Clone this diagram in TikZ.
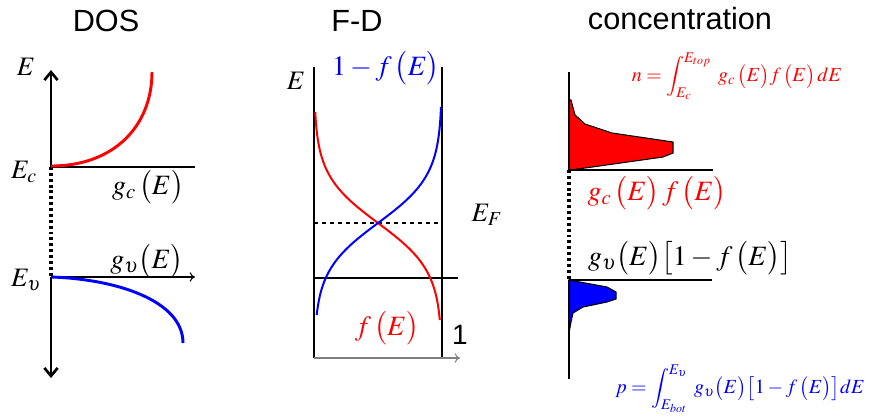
\documentclass[tikz,border=0pt]{standalone}
\usepackage{mathptmx}
\usepackage{fontspec}
\setmainfont{Liberation Sans}
\usetikzlibrary{arrows.meta}
\begin{document}
\begin{tikzpicture}[x=0.75pt,y=-0.75pt,
  title/.style={inner sep=0pt,font=\fontsize{23}{26}\selectfont},
  lab/.style={inner sep=0pt,font=\fontsize{20}{22}\selectfont},
  biglab/.style={inner sep=0pt,font=\fontsize{21}{23}\selectfont},
  formula/.style={inner sep=0pt,font=\fontsize{15}{17}\selectfont},
  thickax/.style={line width=2.2pt},
  frameline/.style={line width=1.5pt},
  thinax/.style={line width=0.8pt},
  barb/.style={-{Straight Barb[length=6pt,width=10pt,line width=2pt]}},
  curveC/.style={red,line width=2.2pt},
  curveV/.style={blue,line width=2.2pt},
  fdcurve/.style={line width=1.5pt},
  dotax/.style={line width=2.4pt,dash pattern=on 2.2pt off 2.2pt}
]
\useasboundingbox (0,0) rectangle (894,419);

% ---------- titles
\node[title] (tdos) at (106,21) {DOS};
\node[title] (tfd) at (357,21) {F-D};
\node[title] (tconc) at (680,19) {concentration};

% ---------- DOS panel
\coordinate (dosTop) at (51,70);
\coordinate (dosEc) at (51,167);
\coordinate (dosEv) at (51,277);
\coordinate (dosBot) at (51,378);
\coordinate (dosEcEnd) at (195,167);
\coordinate (dosEvEnd) at (195,277);
\draw[thickax,barb] (dosEc) -- (dosTop);
\draw[dotax] (dosEc) -- (dosEv);
\draw[thickax,barb] (dosEv) -- (dosBot);
\draw[thickax] (dosEc) -- (dosEcEnd);
\draw[thinax,-{To[length=4pt,width=7pt]}] (dosEv) -- (dosEvEnd);
\draw[curveC] (51,166) .. controls (115,166) and (152,125) .. (152,72);
\draw[curveV] (51,277) .. controls (115,279) and (183,300) .. (183,343);

\node[lab] (dosE) at (26,67) {$E$};
\node[lab] (dosEcL) at (24,172) {$E_c$};
\node[biglab] (dosGc) at (148,187) {$g_c\,\big(E\big)$};
\node[lab] (dosEvL) at (26,280) {$E_\upsilon$};
\node[biglab] (dosGv) at (147,261) {$g_\upsilon\big(E\big)$};

% ---------- F-D panel
\coordinate (fdTL) at (314,67);
\coordinate (fdBL) at (314,358);
\coordinate (fdTR) at (442,67);
\coordinate (fdBR) at (442,358);
\coordinate (fdAx) at (460,358);
\coordinate (fdEvL) at (314,278);
\coordinate (fdEvR) at (458,278);
\coordinate (fdEfL) at (314,223);
\coordinate (fdEfR) at (442,223);
\draw[frameline] (fdTL) -- (fdBL);
\draw[frameline] (fdTR) -- (fdBR);
\draw[thinax,gray,-{To[length=4pt,width=7pt]}] (fdBL) -- (fdAx);
\draw[thickax] (fdEvL) -- (fdEvR);
\draw[thinax,dashed] (fdEfL) -- (fdEfR);
\draw[fdcurve,red] plot[domain=112:320,samples=90,variable=\t] ({314+128/(1+exp((223-\t)/24))},{\t});
\draw[fdcurve,blue] plot[domain=107:315,samples=90,variable=\t] ({314+128/(1+exp((\t-223)/24))},{\t});

\node[lab] (fdE) at (296,81) {$E$};
\node[biglab,text=blue] (fd1mf) at (386,68) {$1-f\,\big(E\big)$};
\node[biglab,text=red] (fdf) at (387,328) {$f\,\big(E\big)$};
\node[lab] (fdEF) at (487,215) {$E_F$};
\node[inner sep=0pt,font=\fontsize{21}{24}\selectfont] (fd1) at (460,335) {1};

% ---------- concentration panel
\coordinate (cTop) at (569,72);
\coordinate (cEc) at (569,170);
\coordinate (cEcEnd) at (713,170);
\coordinate (cEv) at (569,280);
\coordinate (cEvEnd) at (712,280);
\coordinate (cBot) at (569,379);
\fill[red,draw=black,line width=0.8pt] (569,170) -- (569,100) -- (571,100) -- (575,115) -- (585,124) -- (612,133) -- (673,142) -- (673,153) -- (663,157) -- (571,170) -- cycle;
\fill[blue,draw=black,line width=0.8pt] (569,280) -- (607,287) -- (616,292) -- (616,299) -- (607,302) -- (583,307) -- (573,313) -- (571,322) -- (569,333) -- cycle;
\draw[thickax] (cTop) -- (cEc);
\draw[thickax] (cEc) -- (cEcEnd);
\draw[dotax] (cEc) -- (cEv);
\draw[thickax] (cEv) -- (cBot);
\draw[thickax] (cEv) -- (cEvEnd);

\node[formula,text=red] (cN) at (737,76) {$\displaystyle n=\int_{E_c}^{E_{top}}\; g_c\,\big(E\big)f\,\big(E\big)\,dE$};
\node[biglab,text=red] (cGcf) at (657,193) {$g_c\,\big(E\big)\,f\,\big(E\big)$};
\node[biglab] (cGv) at (690,258) {$g_\upsilon\big(E\big)\big[1-f\,\big(E\big)\big]$};
\node[formula,text=blue] (cP) at (740,389) {$\displaystyle p=\int_{E_{bot}}^{E_\upsilon}\; g_\upsilon\big(E\big)\big[1-f\,\big(E\big)\big]dE$};
\end{tikzpicture}
\end{document}
